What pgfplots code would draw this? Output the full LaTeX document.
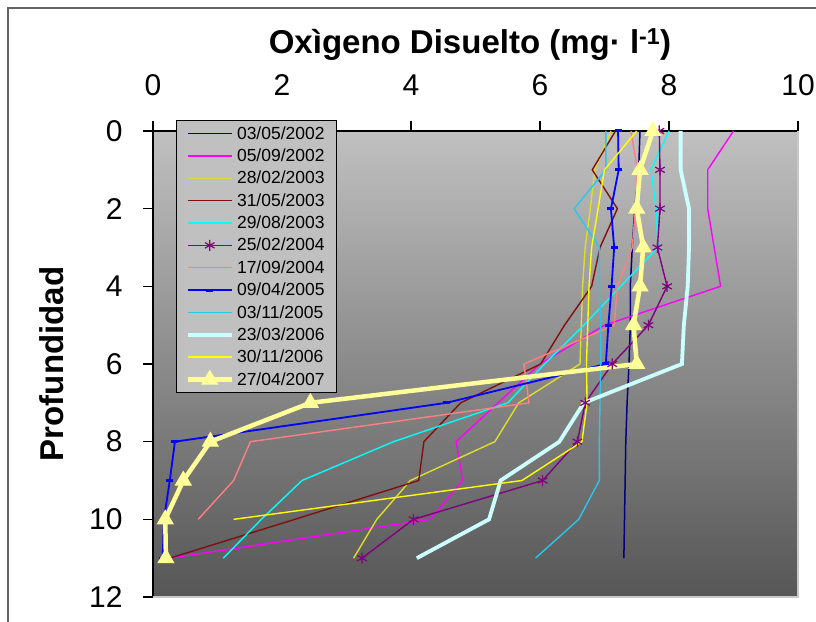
\documentclass[border=0pt]{standalone}
\usepackage{fontspec}
\setmainfont{Liberation Sans}
\usepackage{pgfplots}
\pgfplotsset{compat=1.18}
\definecolor{cNavy}{RGB}{0,0,128}
\definecolor{cMag}{RGB}{255,0,255}
\definecolor{cYel1}{RGB}{222,222,40}
\definecolor{cBrown}{RGB}{128,16,16}
\definecolor{cCyan}{RGB}{0,255,255}
\definecolor{cPurp}{RGB}{128,0,128}
\definecolor{cSalm}{RGB}{255,128,128}
\definecolor{cBlue}{RGB}{0,0,255}
\definecolor{cSky}{RGB}{40,200,235}
\definecolor{cLCyan}{RGB}{204,255,255}
\definecolor{cYel2}{RGB}{255,255,0}
\definecolor{cLYel}{RGB}{255,255,153}
\definecolor{bgTop}{RGB}{192,192,192}
\definecolor{bgMid}{RGB}{158,158,158}
\definecolor{bgBot}{RGB}{86,86,86}
\definecolor{legBg}{RGB}{192,192,192}
\definecolor{edgeGray}{RGB}{200,200,200}
\definecolor{frameGray}{RGB}{100,100,100}
\begin{document}
\begin{tikzpicture}[x=1bp,y=1bp]
\useasboundingbox (0,0) rectangle (816,622);
\fill[white] (0,0) rectangle (816,622);
\draw[frameGray, line width=1.5bp] (8,-2) -- (8,614) -- (818,614);
\node[font=\fontsize{33bp}{38bp}\selectfont\bfseries, anchor=base] at (470,568) {Oxìgeno Disuelto (mg· l\textsuperscript{-1})};
\node[font=\fontsize{33bp}{38bp}\selectfont\bfseries, rotate=90, anchor=center] at (52,258) {Profundidad};
\begin{axis}[
  at={(153bp,25bp)}, anchor=south west,
  scale only axis, width=645bp, height=466bp,
  xmin=0, xmax=10, ymin=0, ymax=12, y dir=reverse,
  axis x line*=top, axis y line*=left,
  axis line style={-, black, line width=1.2bp},
  xtick={0,2,...,10}, ytick={0,2,...,12},
  tick align=outside, major tick length=10bp,
  tick style={black, line width=1.2bp},
  ticklabel style={font=\fontsize{30bp}{36bp}\selectfont},
  xticklabel style={yshift=22bp},
  yticklabel style={xshift=-17bp},
  /pgf/number format/assume math mode=true,
  axis background/.style={top color=bgTop, middle color=bgMid, bottom color=bgBot},
  clip=false,
  legend cell align=left,
  legend style={at={(0.0357,1.0236)}, anchor=north west, fill=legBg, draw=black, line width=1bp,
    font=\fontsize{17.5bp}{20bp}\selectfont, row sep=4.2bp, inner xsep=9bp, inner ysep=4bp,
    nodes={inner xsep=3bp}},
  legend image code/.code={\draw[mark repeat=2,mark phase=2,#1] plot coordinates {(0bp,0bp) (22bp,0bp) (44bp,0bp)};},
]
\draw[edgeGray, line width=1.5bp] (axis description cs:0,0) -- (axis description cs:1,0) -- (axis description cs:1,1);
\addplot[cNavy, line width=1.5bp] coordinates {(7.55,0) (7.53,1) (7.47,2) (7.43,3) (7.40,4) (7.40,5) (7.38,6) (7.35,7) (7.33,8) (7.32,9) (7.31,10) (7.30,11)};
\addlegendentry{03/05/2002}
\addplot[cMag, line width=1.4bp] coordinates {(9.0,0) (8.6,1) (8.6,2) (8.7,3) (8.8,4) (7.0,5) (6.0,6) (5.35,7) (4.7,8) (4.8,9) (4.3,10) (0.25,11)};
\addlegendentry{05/09/2002}
\addplot[cYel1, line width=1.4bp] coordinates {(7.1,0) (6.85,1) (6.78,2) (6.7,3) (6.66,4) (6.64,5) (6.62,6) (5.67,7) (5.3,8) (3.99,9) (3.47,10) (3.11,11)};
\addlegendentry{28/02/2003}
\addplot[cBrown, line width=1.4bp] coordinates {(7.17,0) (6.81,1) (7.2,2) (6.93,3) (6.8,4) (6.38,5) (6.01,6) (4.77,7) (4.2,8) (4.12,9) (2.2,10) (0.26,11)};
\addlegendentry{31/05/2003}
\addplot[cCyan, line width=1.4bp] coordinates {(8.0,0) (7.72,1) (7.8,2) (7.83,3) (7.25,4) (6.68,5) (6.07,6) (5.5,7) (3.73,8) (2.31,9) (1.68,10) (1.09,11)};
\addlegendentry{29/08/2003}
\addplot[cPurp, line width=1.4bp, mark=asterisk, mark size=5.5bp, mark options={line width=1.2bp}] coordinates {(7.85,0) (7.86,1) (7.86,2) (7.82,3) (7.97,4) (7.68,5) (7.12,6) (6.7,7) (6.58,8) (6.04,9) (4.04,10) (3.24,11)};
\addlegendentry{25/02/2004}
\addplot[cSalm, line width=1.4bp] coordinates {(7.41,0) (7.51,1) (7.48,2) (7.43,3) (7.2,4) (7.15,5) (5.75,6) (5.83,7) (1.51,8) (1.25,9) (0.70,10)};
\addlegendentry{17/09/2004}
\addplot[cBlue, line width=1.8bp, mark=-, mark size=3.5bp, mark options={line width=3bp}] coordinates {(7.21,0) (7.22,1) (7.1,2) (7.15,3) (7.11,4) (7.06,5) (7.02,6) (4.55,7) (0.34,8) (0.26,9) (0.17,10) (0.15,11)};
\addlegendentry{09/04/2005}
\addplot[cSky, line width=1.4bp] coordinates {(7.02,0) (7.02,1) (6.53,2) (6.92,3) (6.92,4) (6.94,5) (6.94,6) (6.93,7) (6.92,8) (6.92,9) (6.6,10) (5.93,11)};
\addlegendentry{03/11/2005}
\addplot[cLCyan, line width=3.8bp] coordinates {(8.18,0) (8.18,1) (8.31,2) (8.31,3) (8.29,4) (8.23,5) (8.2,6) (6.68,7) (6.3,8) (5.39,9) (5.21,10) (4.09,11)};
\addlegendentry{23/03/2006}
\addplot[cYel2, line width=1.4bp] coordinates {(7.5,0) (7.0,1) (6.9,2) (6.8,3) (6.76,4) (6.74,5) (6.72,6) (6.73,7) (6.65,8) (5.72,9) (1.25,10)};
\addlegendentry{30/11/2006}
\addplot[cLYel, line width=4.5bp, mark=triangle*, mark size=9bp, mark options={line width=1bp, fill=cLYel, draw=cLYel}] coordinates {(7.75,0) (7.55,1) (7.5,2) (7.6,3) (7.55,4) (7.45,5) (7.5,6) (2.44,7) (0.89,8) (0.47,9) (0.19,10) (0.2,11)};
\addlegendentry{27/04/2007}
\end{axis}
\end{tikzpicture}
\end{document}
